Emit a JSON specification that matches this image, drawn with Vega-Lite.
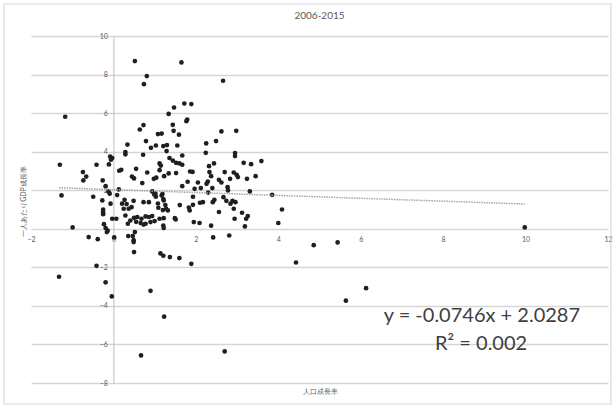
{
  "$schema": "https://vega.github.io/schema/vega-lite/v6.json",
  "width": 577,
  "height": 347,
  "autosize": "none",
  "padding": {"left": 31, "top": 36, "right": 6, "bottom": 25},
  "background": "white",
  "config": {
    "view": {"stroke": null},
    "font": "Lato",
    "axis": {"labelFont": "Lato", "titleFont": "Lato", "labelColor": "#595959", "titleColor": "#595959", "labelFontSize": 7, "titleFontSize": 7, "titleFontWeight": "normal", "labelOverlap": false}
  },
  "title": {"text": "2006-2015", "fontSize": 10, "fontWeight": "normal", "color": "#595959", "font": "Lato", "frame": "group", "anchor": "middle", "offset": -18},
  "encoding": {
    "x": {
      "field": "x", "type": "quantitative",
      "scale": {"domain": [-2, 12], "nice": false, "zero": false},
      "axis": {"title": "人口成長率", "values": [-2, 0, 2, 4, 6, 8, 10, 12], "grid": false, "domain": false, "ticks": false, "labelPadding": 7, "offset": -154.2, "titleY": 159, "titleBaseline": "top", "labelFlush": false}
    },
    "y": {
      "field": "y", "type": "quantitative",
      "scale": {"domain": [-8, 10], "nice": false, "zero": false},
      "axis": {"title": "一人あたりGDP成長率", "values": [-8, -6, -4, -2, 0, 2, 4, 6, 8, 10], "tickCount": 10, "grid": true, "gridColor": "#d6d6d6", "gridWidth": 1.4, "domain": true, "domainColor": "#bfbfbf", "domainWidth": 1, "ticks": false, "labelPadding": 6, "offset": -82.4, "titleX": -87, "titleY": 165, "titleAngle": -90, "titleAlign": "center", "titleBaseline": "bottom", "labelExpr": "datum.value == 0 ? '' : datum.label", "labelFlush": false, "labelOverlap": false}
    }
  },
  "layer": [
    {
      "data": {"values": [
        {"x":0.52,"y":8.70},{"x":1.65,"y":8.63},{"x":0.81,"y":7.92},{"x":0.74,"y":7.50},{"x":2.66,"y":7.68},{"x":1.72,"y":6.50},{"x":1.89,"y":6.47},{"x":1.47,"y":6.29},{"x":1.34,"y":5.96},{"x":1.79,"y":5.67},{"x":1.77,"y":5.58},{"x":0.73,"y":5.38},{"x":0.64,"y":5.15},{"x":1.44,"y":5.39},{"x":1.46,"y":5.08},{"x":1.08,"y":4.91},{"x":1.17,"y":4.94},{"x":1.59,"y":4.88},{"x":2.62,"y":5.05},{"x":2.98,"y":5.08},{"x":-1.17,"y":5.81},
        {"x":0.34,"y":4.37},{"x":0.79,"y":4.55},{"x":0.91,"y":4.20},{"x":1.03,"y":4.32},{"x":1.21,"y":4.29},{"x":1.30,"y":4.34},{"x":1.55,"y":4.32},{"x":1.29,"y":4.03},{"x":0.29,"y":3.98},{"x":0.29,"y":3.86},{"x":2.25,"y":4.43},{"x":2.49,"y":4.55},{"x":2.24,"y":3.94},{"x":2.95,"y":3.93},{"x":2.95,"y":3.77},{"x":0.72,"y":3.84},{"x":1.67,"y":3.80},{"x":-0.08,"y":3.75},{"x":-0.03,"y":3.67},{"x":-0.06,"y":3.58},{"x":-0.11,"y":3.34},{"x":1.36,"y":3.67},{"x":1.44,"y":3.54},{"x":1.52,"y":3.42},{"x":1.60,"y":3.39},{"x":-1.30,"y":3.32},{"x":-0.41,"y":3.32},{"x":1.12,"y":3.39},{"x":1.15,"y":3.28},{"x":1.67,"y":3.32},{"x":2.32,"y":3.25},{"x":2.44,"y":3.39},{"x":3.16,"y":3.42},{"x":3.34,"y":3.35},{"x":3.59,"y":3.51},
        {"x":0.14,"y":3.01},{"x":0.19,"y":3.06},{"x":0.55,"y":3.11},{"x":0.82,"y":2.92},{"x":1.12,"y":3.04},{"x":1.34,"y":2.87},{"x":1.52,"y":2.89},{"x":1.86,"y":2.97},{"x":1.92,"y":2.95},{"x":2.33,"y":2.94},{"x":2.37,"y":2.73},{"x":2.70,"y":2.94},{"x":2.92,"y":2.92},{"x":2.99,"y":2.80},{"x":3.02,"y":2.68},{"x":3.45,"y":2.73},{"x":-0.74,"y":2.94},{"x":-0.66,"y":2.71},{"x":-0.73,"y":2.51},{"x":-0.26,"y":2.51},{"x":0.45,"y":2.71},{"x":0.50,"y":2.61},{"x":0.98,"y":2.59},{"x":1.04,"y":2.65},{"x":0.70,"y":2.37},{"x":1.23,"y":2.73},{"x":1.80,"y":2.44},{"x":2.05,"y":2.40},{"x":2.26,"y":2.33},{"x":2.29,"y":2.45},{"x":2.56,"y":2.54},{"x":2.62,"y":2.40},{"x":2.83,"y":2.59},{"x":3.24,"y":2.59},
        {"x":1.67,"y":2.21},{"x":1.97,"y":2.07},{"x":2.12,"y":2.11},{"x":2.40,"y":2.11},{"x":2.30,"y":1.88},{"x":2.77,"y":2.16},{"x":2.78,"y":1.99},{"x":3.31,"y":1.94},{"x":-0.19,"y":2.21},{"x":0.13,"y":2.04},{"x":-0.12,"y":1.94},{"x":0.09,"y":1.75},{"x":-1.26,"y":1.73},{"x":-0.49,"y":1.66},{"x":0.94,"y":1.94},{"x":0.99,"y":1.78},{"x":1.03,"y":1.66},{"x":1.19,"y":1.80},{"x":1.21,"y":1.54},{"x":3.85,"y":1.76},{"x":1.93,"y":1.66},{"x":1.02,"y":1.82},{"x":1.17,"y":1.73},{"x":-0.09,"y":1.82},
        {"x":2.17,"y":1.38},{"x":2.10,"y":1.35},{"x":2.45,"y":1.50},{"x":2.41,"y":1.38},{"x":2.67,"y":1.64},{"x":2.74,"y":1.45},{"x":2.89,"y":1.45},{"x":2.96,"y":1.38},{"x":2.84,"y":1.30},{"x":2.92,"y":1.04},{"x":0.27,"y":1.50},{"x":0.49,"y":1.45},{"x":0.32,"y":1.28},{"x":0.44,"y":1.12},{"x":0.37,"y":1.04},{"x":0.21,"y":1.30},{"x":0.25,"y":1.04},{"x":-0.07,"y":1.30},{"x":-0.27,"y":1.47},{"x":0.73,"y":1.38},{"x":0.86,"y":1.38},{"x":1.08,"y":1.31},{"x":1.26,"y":1.23},{"x":1.09,"y":1.09},{"x":1.20,"y":0.97},{"x":1.22,"y":1.47},{"x":1.28,"y":1.04},{"x":1.32,"y":0.95},{"x":1.61,"y":1.23},{"x":1.93,"y":1.24},{"x":1.83,"y":1.10},{"x":1.85,"y":0.95},{"x":4.09,"y":1.00},{"x":-0.25,"y":0.99},{"x":-0.25,"y":0.85},{"x":-0.25,"y":0.76},
        {"x":2.56,"y":0.87},{"x":3.12,"y":0.83},{"x":3.26,"y":0.66},{"x":3.22,"y":0.52},{"x":2.94,"y":0.52},{"x":1.51,"y":0.48},{"x":1.49,"y":0.55},{"x":0.07,"y":0.52},{"x":-0.03,"y":0.52},{"x":0.29,"y":0.69},{"x":0.41,"y":0.43},{"x":0.50,"y":0.57},{"x":0.58,"y":0.61},{"x":0.68,"y":0.52},{"x":0.78,"y":0.64},{"x":0.86,"y":0.61},{"x":0.94,"y":0.66},{"x":1.12,"y":0.52},{"x":1.22,"y":0.55},{"x":0.66,"y":0.30},{"x":0.73,"y":0.22},{"x":0.78,"y":0.26},{"x":0.35,"y":0.26},{"x":0.55,"y":0.36},{"x":0.90,"y":0.35},{"x":1.00,"y":0.40},{"x":1.21,"y":0.17},{"x":1.22,"y":0.04},{"x":1.95,"y":0.35},{"x":2.09,"y":0.30},{"x":2.37,"y":0.16},{"x":3.19,"y":0.12},{"x":4.00,"y":0.30},{"x":-0.99,"y":0.07},{"x":-0.23,"y":0.24},{"x":-0.19,"y":0.04},{"x":-0.14,"y":-0.10},{"x":-0.16,"y":-0.17},{"x":9.98,"y":0.07},
        {"x":0.02,"y":-0.45},{"x":-0.60,"y":-0.43},{"x":-0.38,"y":-0.54},{"x":0.36,"y":-0.38},{"x":0.47,"y":-0.38},{"x":0.52,"y":-0.17},{"x":0.49,"y":-0.59},{"x":0.49,"y":-0.69},{"x":2.42,"y":-0.45},{"x":2.81,"y":-0.35},{"x":0.50,"y":-1.21},{"x":1.14,"y":-1.28},{"x":1.21,"y":-1.40},{"x":1.37,"y":-1.47},{"x":1.60,"y":-1.52},{"x":1.89,"y":-1.82},{"x":4.43,"y":-1.75},{"x":-0.41,"y":-1.92},{"x":4.86,"y":-0.85},{"x":5.44,"y":-0.71},{"x":-1.32,"y":-2.49},{"x":-0.19,"y":-2.78},{"x":-0.04,"y":-3.51},{"x":0.90,"y":-3.22},{"x":1.23,"y":-4.56},{"x":0.67,"y":-6.57},{"x":2.70,"y":-6.36},{"x":5.64,"y":-3.73},{"x":6.13,"y":-3.08}
      ]},
      "mark": {"type": "circle", "size": 22, "color": "#1f1f1f", "opacity": 1}
    },
    {
      "data": {"values": [{"x": -1.32, "y": 2.127}, {"x": 9.98, "y": 1.284}]},
      "mark": {"type": "line", "color": "#a6a6a6", "strokeWidth": 1.5, "strokeDash": [1.5, 1]}
    },
    {
      "data": {"values": [
        {"x": 8.94, "y": -4.52, "label": "y = -0.0746x + 2.0287"},
        {"x": 8.92, "y": -5.98, "label": "R² = 0.002"}
      ]},
      "mark": {"type": "text", "font": "Lato", "fontSize": 20, "color": "#404040", "align": "center", "baseline": "middle"},
      "encoding": {
        "text": {"field": "label", "type": "nominal"}
      }
    },
    {
      "data": {"values": [{"x": -2.655, "x2": 12.07, "y": 11.66, "y2": -9.09}]},
      "mark": {"type": "rect", "fill": "white", "fillOpacity": 0, "stroke": "#d9d9d9", "strokeWidth": 1.2, "clip": false},
      "encoding": {
        "x2": {"field": "x2"},
        "y2": {"field": "y2"}
      }
    }
  ]
}
